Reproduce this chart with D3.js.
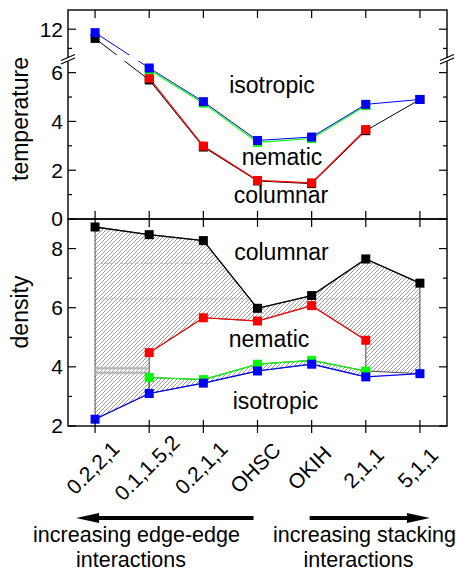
<!DOCTYPE html>
<html>
<head>
<meta charset="utf-8">
<script src="https://cdn.jsdelivr.net/npm/d3@7"></script>
<style>
body { margin: 0; background: #fff; }
text { font-family: "Liberation Sans", Arial, sans-serif; fill: #000; }
</style>
</head>
<body>
<div id="chart"></div>
<script>
const categories = ["0.2,2,1", "0.1,1.5,2", "0.2,1,1", "OHSC", "OKIH", "2,1,1", "5,1,1"]

// top panel, transition temperatures
const tempBlack = [11.52, 5.70, 2.95, 1.56, 1.45, 3.62, 4.90]
const tempRed   = [null, 5.77, 2.99, 1.58, 1.48, 3.67, null]
const tempGreen = [null, 6.12, 4.75, 3.14, 3.30, 4.65, null]
const tempBlue  = [11.82, 6.19, 4.81, 3.22, 3.36, 4.70, 4.90]

// bottom panel, coexisting densities
const densBlack = [8.73, 8.47, 8.27, 5.98, 6.41, 7.65, 6.83]
const densRed   = [null, 4.48, 5.66, 5.55, 6.07, 4.90, null]
const densGreen = [null, 3.64, 3.57, 4.09, 4.22, 3.86, null]
const densBlue  = [2.23, 3.10, 3.45, 3.86, 4.09, 3.66, 3.77]

const tempTicks = [0, 2, 4, 6, 12]
const tempMinor = [1, 3, 5, 11]
const densTicks = [2, 4, 6, 8]
const densMinor = [3, 5, 7]

const topLabels = ["isotropic", "nematic", "columnar"]
const bottomLabels = ["columnar", "nematic", "isotropic"]

const width = 456, height = 571
const left = 68, right = 447, top1 = 10, mid = 219, bottom2 = 426
const breakY = 58

const svg = d3.select("#chart").append("svg")
    .attr("width", width)
    .attr("height", height)

const x = d3.scalePoint().domain(categories).range([left, right]).padding(0.5)

// broken axis: 0..6.6 below the break, 10.5..13 above it
const yTop = d3.scaleLinear().domain([0, 6.6, 10.5, 13]).range([mid, breakY, breakY, top1])
const yBot = d3.scaleLinear().domain([2, 9]).range([bottom2, mid])

const defs = svg.append("defs")
const pat = defs.append("pattern")
    .attr("id", "hatch")
    .attr("patternUnits", "userSpaceOnUse")
    .attr("width", 4).attr("height", 4)
pat.append("rect").attr("width", 4).attr("height", 4).attr("fill", "#fff")
pat.append("path")
    .attr("d", "M-1,1 l2,-2 M0,4 l4,-4 M3,5 l2,-2")
    .attr("stroke", "#909090").attr("stroke-width", 0.9)

function lineFor(ys) {
    return d3.line()
        .defined(d => d != null)
        .x((d, i) => x(categories[i]))
        .y(d => ys(d))
}

function drawSeries(g, data, ys, color, width) {
    g.append("path")
        .attr("d", lineFor(ys)(data))
        .attr("fill", "none")
        .attr("stroke", color)
        .attr("stroke-width", width || 1)
}

function drawMarkers(g, data, ys, color) {
    g.selectAll(null)
        .data(data.map((v, i) => [i, v]).filter(d => d[1] != null))
        .enter()
        .append("rect")
        .attr("x", d => x(categories[d[0]]) - 4.5)
        .attr("y", d => ys(d[1]) - 4.5)
        .attr("width", 9).attr("height", 9)
        .attr("fill", color)
}

// ---------- bottom panel: hatched coexistence regions ----------
const gB = svg.append("g")
const P = (i, v) => [x(categories[i]), yBot(v)]

let poly1 = densBlack.map((v, i) => P(i, v))
poly1.push(P(6, densBlue[6]), P(5, densGreen[5]))
for (let i = 5; i >= 1; i--) poly1.push(P(i, densRed[i]))
poly1.push(P(1, densGreen[1]), P(1, densBlue[1]), P(0, densBlue[0]))

let poly2 = []
for (let i = 1; i <= 5; i++) poly2.push(P(i, densGreen[i]))
for (let i = 5; i >= 1; i--) poly2.push(P(i, densBlue[i]))

defs.append("clipPath").attr("id", "clipPoly")
    .append("path").attr("d", "M" + poly1.join("L") + "Z")

;[poly1, poly2].forEach(p => {
    gB.append("path")
        .attr("d", "M" + p.join("L") + "Z")
        .attr("fill", "url(#hatch)")
        .attr("stroke", "#222")
        .attr("stroke-width", 0.8)
})

// rendering streaks visible in the original hatch
const streaks = [[7.5, 0, 6, 1, "3,2"], [6.3, 0, 6, 1, "3,2"], [3.95, 0, 1, 2, null], [3.8, 0, 1, 2, null]]
streaks.forEach(s => {
    gB.append("line")
        .attr("clip-path", "url(#clipPoly)")
        .attr("x1", x(categories[s[1]])).attr("x2", x(categories[s[2]]))
        .attr("y1", yBot(s[0])).attr("y2", yBot(s[0]))
        .attr("stroke", "#b4b4b4")
        .attr("stroke-width", s[3])
        .attr("stroke-dasharray", s[4])
})

drawSeries(gB, densBlack, yBot, "#000", 1.3)
drawSeries(gB, densRed, yBot, "#f00", 1.2)
drawSeries(gB, densGreen, yBot, "#0f0", 1.2)
drawSeries(gB, densBlue, yBot, "#00f", 1.2)
drawMarkers(gB, densBlack, yBot, "#000")
drawMarkers(gB, densRed, yBot, "#f00")
drawMarkers(gB, densGreen, yBot, "#0f0")
drawMarkers(gB, densBlue, yBot, "#00f")

// ---------- top panel ----------
const gT = svg.append("g")
drawSeries(gT, tempBlack, yTop, "#000", 1)
drawSeries(gT, tempRed, yTop, "#f00", 1.2)
drawSeries(gT, tempGreen, yTop, "#0f0", 1.2)
drawSeries(gT, tempBlue, yTop, "#00f", 1)

// gap where the axis is broken
gT.append("rect")
    .attr("x", left + 1).attr("y", breakY - 3)
    .attr("width", right - left - 2).attr("height", 6)
    .attr("fill", "#fff")

drawMarkers(gT, tempBlack, yTop, "#000")
drawMarkers(gT, tempRed, yTop, "#f00")
drawMarkers(gT, tempGreen, yTop, "#0f0")
drawMarkers(gT, tempBlue, yTop, "#00f")

// ---------- frames and ticks ----------
svg.append("rect").attr("x", left).attr("y", top1)
    .attr("width", right - left).attr("height", mid - top1)
    .attr("fill", "none").attr("stroke", "#000").attr("stroke-width", 1.4)
svg.append("rect").attr("x", left).attr("y", mid)
    .attr("width", right - left).attr("height", bottom2 - mid)
    .attr("fill", "none").attr("stroke", "#000").attr("stroke-width", 1.4)

const ticks = svg.append("g").attr("stroke", "#000").attr("stroke-width", 1.2)
function yTicks(vals, ys, len) {
    vals.forEach(v => {
        ticks.append("line").attr("x1", left).attr("x2", left + len)
            .attr("y1", ys(v)).attr("y2", ys(v))
        ticks.append("line").attr("x1", right).attr("x2", right - len)
            .attr("y1", ys(v)).attr("y2", ys(v))
    })
}
yTicks(tempTicks, yTop, 8)
yTicks(tempMinor, yTop, 4)
yTicks(densTicks, yBot, 8)
yTicks(densMinor, yBot, 4)

categories.forEach(c => {
    ticks.append("line").attr("x1", x(c)).attr("x2", x(c)).attr("y1", top1).attr("y2", top1 + 8)
    ticks.append("line").attr("x1", x(c)).attr("x2", x(c)).attr("y1", mid - 8).attr("y2", mid + 8)
    ticks.append("line").attr("x1", x(c)).attr("x2", x(c)).attr("y1", bottom2 - 6).attr("y2", bottom2 + 7)
})

// break marks on both vertical axes
;[left, right].forEach(ax => {
    svg.append("path")
        .attr("d", `M${ax - 7},${breakY + 3} L${ax + 7},${breakY - 3} L${ax + 7},${breakY + 0.5} L${ax - 7},${breakY + 6.5}Z`)
        .attr("fill", "#fff")
    svg.append("path")
        .attr("d", `M${ax - 7},${breakY + 2.5} L${ax + 7},${breakY - 3.5} M${ax - 7},${breakY + 6} L${ax + 7},${breakY}`)
        .attr("stroke", "#000").attr("stroke-width", 1.2)
})

// ---------- tick labels ----------
const lab = svg.append("g").attr("font-size", 21).attr("text-anchor", "end")
tempTicks.forEach(v => {
    lab.append("text").attr("x", left - 5).attr("y", yTop(v)).attr("dy", "0.35em").text(v)
})
densTicks.forEach(v => {
    lab.append("text").attr("x", left - 5).attr("y", yBot(v)).attr("dy", "0.35em").text(v)
})

svg.append("g").selectAll("text")
    .data(categories)
    .enter()
    .append("text")
    .attr("font-size", 21)
    .attr("text-anchor", "middle")
    .attr("transform", d => `translate(${x(d) + 3},${473}) rotate(-45)`)
    .text(d => d)

// axis titles
svg.append("text").attr("font-size", 23).attr("text-anchor", "middle")
    .attr("transform", "translate(28,119) rotate(-90)").text("temperature")
svg.append("text").attr("font-size", 23).attr("text-anchor", "middle")
    .attr("transform", "translate(28,312) rotate(-90)").text("density")

// phase labels
const xMid = x("OHSC")
const topLabelPos = [[14.5, 5.18], [24.5, 2.21], [23.5, 0.64]]
topLabels.forEach((t, i) => {
    svg.append("text").attr("font-size", 23).attr("text-anchor", "middle")
        .attr("x", xMid + topLabelPos[i][0]).attr("y", yTop(topLabelPos[i][1])).text(t)
})
const botLabelPos = [[24, 7.61], [11.5, 4.67], [18, 2.57]]
bottomLabels.forEach((t, i) => {
    svg.append("text").attr("font-size", 23).attr("text-anchor", "middle")
        .attr("x", xMid + botLabelPos[i][0]).attr("y", yBot(botLabelPos[i][1])).text(t)
})

// ---------- arrows ----------
const arrowY = 518
function arrow(x0, x1) {
    const dir = Math.sign(x1 - x0)
    svg.append("line")
        .attr("x1", x0).attr("x2", x1 - dir * 20)
        .attr("y1", arrowY).attr("y2", arrowY)
        .attr("stroke", "#000").attr("stroke-width", 4)
    svg.append("path")
        .attr("d", `M${x1},${arrowY} L${x1 - dir * 23},${arrowY - 5} L${x1 - dir * 23},${arrowY + 5}Z`)
        .attr("fill", "#000")
}
arrow(x("OHSC") - 4, x("0.2,2,1") - 19)
arrow(x("OKIH") - 2, x("5,1,1") + 10)

const notes = svg.append("g").attr("font-size", 21.5).attr("text-anchor", "middle")
notes.append("text").attr("x", 136.5).attr("y", 542).text("increasing edge-edge")
notes.append("text").attr("x", 131).attr("y", 567).text("interactions")
notes.append("text").attr("x", 364.5).attr("y", 542).text("increasing stacking")
notes.append("text").attr("x", 358.5).attr("y", 567).text("interactions")
</script>
</body>
</html>
